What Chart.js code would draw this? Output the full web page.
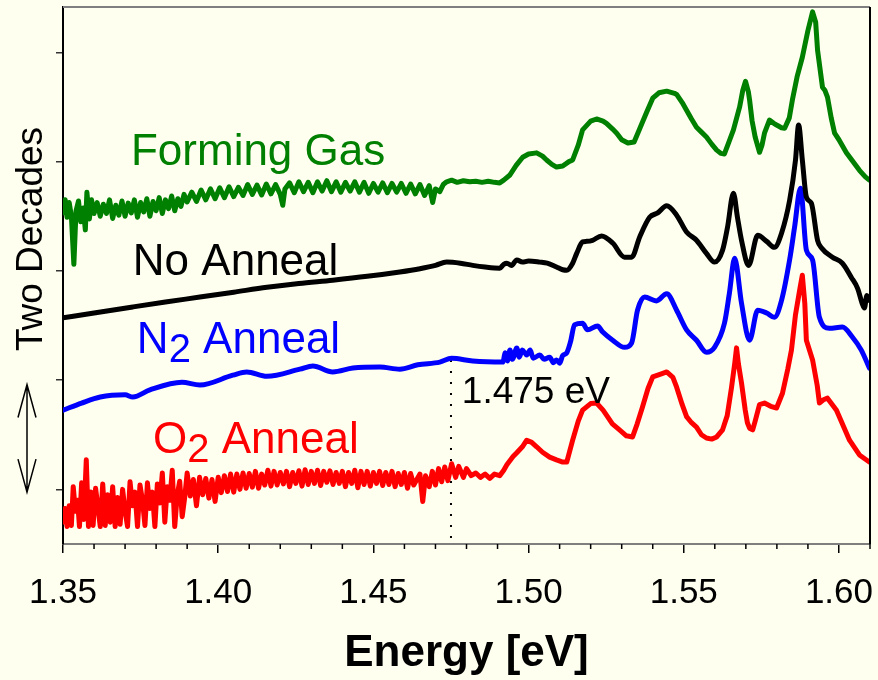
<!DOCTYPE html>
<html>
<head>
<meta charset="utf-8">
<title>Energy spectra</title>
<script src="https://cdn.jsdelivr.net/npm/chart.js@4.4.0/dist/chart.umd.min.js"></script>
<style>
  html, body { margin: 0; padding: 0; background: #FFFFF0; }
  #wrap { width: 878px; height: 680px; }
</style>
</head>
<body>
<div id="wrap"><canvas id="myChart" width="878" height="680"></canvas></div>
<script>
// x: energy [eV], y: log intensity in decades (one y tick = two decades)
var formingGas = [
  [1.3500,5.06],[1.3507,5.30],[1.3513,4.98],[1.3520,5.25],[1.3527,5.00],[1.3535,4.12],[1.3542,5.10],
  [1.3550,5.28],[1.3557,4.90],[1.3565,5.15],[1.3572,4.75],[1.3577,5.44],[1.3585,4.95],[1.3592,5.30],
  [1.3600,5.05],[1.3610,5.25],[1.3620,5.00],[1.3630,5.22],[1.3640,5.05],[1.3650,5.30],[1.3660,4.96],
  [1.3670,5.20],[1.3680,5.02],[1.3690,5.28],[1.3700,5.00],[1.3710,5.24],[1.3720,5.06],[1.3730,5.30],
  [1.3740,4.98],[1.3750,5.25],[1.3760,5.08],[1.3770,5.32],[1.3780,5.00],[1.3790,5.27],[1.3800,5.10],
  [1.3810,5.34],[1.3820,5.05],[1.3830,5.30],[1.3840,5.14],[1.3850,5.37],[1.3860,5.10],[1.3870,5.32],
  [1.3880,5.18],[1.3890,5.40],[1.3900,5.26],[1.3915,5.44],[1.3930,5.27],[1.3945,5.48],[1.3960,5.30],
  [1.3975,5.50],[1.3990,5.32],[1.4005,5.52],[1.4020,5.34],[1.4035,5.54],[1.4050,5.36],[1.4065,5.53],
  [1.4080,5.38],[1.4095,5.58],[1.4110,5.40],[1.4125,5.57],[1.4140,5.39],[1.4155,5.59],[1.4170,5.41],
  [1.4185,5.58],[1.4200,5.40],[1.4208,5.20],[1.4215,5.50],[1.4230,5.61],[1.4245,5.43],[1.4260,5.63],
  [1.4275,5.45],[1.4290,5.62],[1.4305,5.43],[1.4320,5.63],[1.4335,5.46],[1.4350,5.65],[1.4365,5.45],
  [1.4380,5.63],[1.4395,5.44],[1.4410,5.62],[1.4425,5.46],[1.4440,5.63],[1.4455,5.44],[1.4470,5.62],
  [1.4485,5.42],[1.4500,5.60],[1.4515,5.44],[1.4530,5.61],[1.4545,5.43],[1.4560,5.60],[1.4575,5.44],
  [1.4590,5.60],[1.4605,5.42],[1.4620,5.59],[1.4635,5.41],[1.4650,5.58],[1.4665,5.38],[1.4680,5.56],
  [1.4691,5.25],[1.4700,5.50],[1.4714,5.45],[1.4725,5.58],[1.4736,5.63],[1.4752,5.66],[1.4770,5.62],
  [1.4790,5.65],[1.4810,5.63],[1.4830,5.64],[1.4850,5.62],[1.4870,5.64],[1.4890,5.62],[1.4907,5.61],
  [1.4920,5.66],[1.4939,5.75],[1.4960,5.93],[1.4981,6.08],[1.5000,6.14],[1.5026,6.16],[1.5045,6.10],
  [1.5058,6.03],[1.5075,5.95],[1.5090,5.90],[1.5110,5.92],[1.5130,6.00],[1.5142,6.03],[1.5160,6.30],
  [1.5174,6.58],[1.5200,6.74],[1.5219,6.78],[1.5240,6.74],[1.5251,6.70],[1.5270,6.60],[1.5284,6.52],
  [1.5300,6.40],[1.5320,6.34],[1.5340,6.36],[1.5358,6.60],[1.5380,6.90],[1.5400,7.16],[1.5420,7.26],
  [1.5445,7.29],[1.5470,7.25],[1.5477,7.23],[1.5495,7.08],[1.5509,6.94],[1.5525,6.78],[1.5541,6.63],
  [1.5557,6.54],[1.5573,6.45],[1.5590,6.32],[1.5606,6.21],[1.5620,6.15],[1.5631,6.14],[1.5645,6.35],
  [1.5660,6.58],[1.5680,7.00],[1.5690,7.30],[1.5699,7.47],[1.5708,7.28],[1.5712,7.13],[1.5720,6.75],
  [1.5730,6.45],[1.5744,6.17],[1.5752,6.30],[1.5760,6.52],[1.5776,6.76],[1.5790,6.70],[1.5799,6.67],
  [1.5815,6.62],[1.5825,6.61],[1.5840,6.80],[1.5850,7.13],[1.5865,7.55],[1.5882,7.91],[1.5900,8.40],
  [1.5915,8.74],[1.5925,8.55],[1.5931,8.04],[1.5947,7.36],[1.5955,7.30],[1.5963,7.18],[1.5975,6.80],
  [1.5986,6.52],[1.6000,6.40],[1.6024,6.16],[1.6045,6.00],[1.6066,5.84],[1.6085,5.72],[1.6098,5.66]
];

var noAnneal = [
  [1.3500,3.14],[1.3600,3.23],[1.3725,3.34],[1.3830,3.43],[1.3941,3.52],[1.4050,3.61],[1.4157,3.70],
  [1.4260,3.77],[1.4369,3.83],[1.4480,3.90],[1.4585,3.98],[1.4650,4.04],[1.4700,4.10],[1.4736,4.16],
  [1.4780,4.14],[1.4820,4.10],[1.4860,4.07],[1.4907,4.05],[1.4920,4.12],[1.4930,4.14],[1.4945,4.10],
  [1.4962,4.20],[1.4980,4.16],[1.5000,4.18],[1.5036,4.16],[1.5060,4.14],[1.5090,4.07],[1.5110,4.02],
  [1.5123,4.01],[1.5142,4.14],[1.5155,4.32],[1.5174,4.53],[1.5187,4.54],[1.5206,4.56],[1.5235,4.64],
  [1.5271,4.51],[1.5309,4.25],[1.5332,4.25],[1.5358,4.62],[1.5390,4.98],[1.5416,5.06],[1.5445,5.19],
  [1.5477,5.02],[1.5509,4.71],[1.5541,4.56],[1.5573,4.32],[1.5599,4.16],[1.5625,4.38],[1.5641,4.80],
  [1.5660,5.42],[1.5673,4.98],[1.5686,4.56],[1.5709,4.10],[1.5738,4.65],[1.5767,4.54],[1.5792,4.43],
  [1.5815,4.69],[1.5841,5.29],[1.5860,6.03],[1.5870,6.67],[1.5882,6.03],[1.5895,5.35],[1.5911,5.24],
  [1.5931,4.56],[1.5944,4.42],[1.5979,4.25],[1.6011,4.14],[1.6040,3.88],[1.6060,3.68],[1.6075,3.40],
  [1.6082,3.32],[1.6090,3.55],[1.6098,3.46]
];

var n2Anneal = [
  [1.3500,1.45],[1.3560,1.58],[1.3620,1.69],[1.3700,1.73],[1.3725,1.69],[1.3780,1.82],[1.3883,1.96],
  [1.3941,1.91],[1.4047,2.09],[1.4092,2.15],[1.4157,2.07],[1.4263,2.20],[1.4305,2.26],[1.4369,2.15],
  [1.4434,2.22],[1.4521,2.24],[1.4585,2.20],[1.4643,2.28],[1.4714,2.33],[1.4752,2.40],[1.4820,2.35],
  [1.4917,2.33],[1.4925,2.50],[1.4932,2.35],[1.4940,2.55],[1.4948,2.38],[1.4962,2.59],[1.4970,2.42],
  [1.4980,2.55],[1.4994,2.46],[1.5005,2.55],[1.5015,2.40],[1.5036,2.46],[1.5050,2.38],[1.5068,2.42],
  [1.5080,2.32],[1.5090,2.37],[1.5100,2.31],[1.5110,2.45],[1.5123,2.50],[1.5135,2.70],[1.5148,3.01],
  [1.5174,3.04],[1.5190,2.92],[1.5222,2.99],[1.5239,2.88],[1.5271,2.73],[1.5309,2.60],[1.5332,2.68],
  [1.5351,3.28],[1.5374,3.52],[1.5412,3.45],[1.5445,3.58],[1.5477,3.28],[1.5509,2.92],[1.5541,2.73],
  [1.5573,2.51],[1.5599,2.60],[1.5631,3.04],[1.5647,3.59],[1.5664,4.23],[1.5686,3.41],[1.5712,2.73],
  [1.5738,3.28],[1.5767,3.23],[1.5792,3.15],[1.5815,3.46],[1.5841,4.20],[1.5857,4.80],[1.5876,5.51],
  [1.5895,4.38],[1.5915,4.20],[1.5937,3.15],[1.5969,2.95],[1.6011,2.97],[1.6043,2.79],[1.6072,2.55],
  [1.6098,2.22]
];

var o2Anneal = [
  [1.3500,-0.60],[1.3507,-0.35],[1.3513,-0.68],[1.3520,-0.30],[1.3527,-0.66],[1.3533,0.05],[1.3540,-0.40],
  [1.3547,-0.20],[1.3553,-0.68],[1.3560,0.12],[1.3567,-0.55],[1.3575,0.54],[1.3582,-0.68],[1.3590,-0.05],
  [1.3597,-0.66],[1.3605,0.02],[1.3612,-0.30],[1.3620,-0.68],[1.3628,0.10],[1.3636,-0.66],[1.3644,-0.10],
  [1.3652,-0.60],[1.3660,0.05],[1.3668,-0.68],[1.3676,-0.15],[1.3684,-0.64],[1.3692,0.00],[1.3700,-0.40],
  [1.3708,-0.68],[1.3716,0.14],[1.3724,-0.30],[1.3732,-0.05],[1.3740,-0.68],[1.3748,0.08],[1.3756,-0.20],
  [1.3764,-0.66],[1.3772,0.12],[1.3780,-0.35],[1.3788,-0.05],[1.3796,-0.68],[1.3804,0.10],[1.3812,-0.25],
  [1.3820,0.30],[1.3828,-0.60],[1.3836,0.05],[1.3844,-0.20],[1.3852,0.35],[1.3860,-0.68],[1.3868,-0.10],
  [1.3876,0.15],[1.3884,-0.50],[1.3892,-0.15],[1.3900,0.30],[1.3910,-0.12],[1.3920,0.18],[1.3930,-0.30],
  [1.3940,0.22],[1.3950,-0.10],[1.3960,0.20],[1.3970,-0.16],[1.3980,0.18],[1.3990,-0.22],[1.4000,0.22],
  [1.4010,-0.06],[1.4020,0.25],[1.4030,-0.04],[1.4040,0.28],[1.4050,-0.05],[1.4060,0.28],[1.4070,0.00],
  [1.4080,0.30],[1.4090,0.02],[1.4100,0.29],[1.4110,0.04],[1.4120,0.33],[1.4130,0.02],[1.4140,0.28],
  [1.4150,0.08],[1.4160,0.35],[1.4170,0.06],[1.4180,0.33],[1.4190,0.08],[1.4200,0.31],[1.4210,0.10],
  [1.4220,0.33],[1.4230,0.05],[1.4240,0.31],[1.4250,0.11],[1.4260,0.34],[1.4270,0.06],[1.4280,0.36],
  [1.4290,0.09],[1.4300,0.33],[1.4310,0.11],[1.4320,0.35],[1.4330,0.07],[1.4340,0.33],[1.4350,0.13],
  [1.4360,0.34],[1.4370,0.09],[1.4380,0.31],[1.4390,0.11],[1.4400,0.33],[1.4410,0.05],[1.4420,0.31],
  [1.4430,0.11],[1.4440,0.35],[1.4450,0.03],[1.4460,0.33],[1.4470,0.09],[1.4480,0.33],[1.4490,0.06],
  [1.4500,0.31],[1.4510,0.11],[1.4520,0.33],[1.4530,0.07],[1.4540,0.31],[1.4550,0.09],[1.4560,0.33],
  [1.4570,0.05],[1.4580,0.29],[1.4590,0.09],[1.4600,0.31],[1.4610,0.02],[1.4620,0.29],[1.4630,0.08],
  [1.4650,0.28],[1.4659,-0.22],[1.4668,0.25],[1.4680,0.05],[1.4690,0.33],[1.4700,0.08],[1.4710,0.38],
  [1.4720,0.14],[1.4730,0.41],[1.4740,0.16],[1.4752,0.47],[1.4765,0.22],[1.4775,0.42],[1.4790,0.22],
  [1.4800,0.38],[1.4815,0.25],[1.4830,0.30],[1.4845,0.22],[1.4860,0.28],[1.4875,0.20],[1.4890,0.28],
  [1.4907,0.25],[1.4920,0.35],[1.4930,0.45],[1.4950,0.60],[1.4962,0.67],[1.4980,0.78],[1.4994,0.90],
  [1.5010,0.86],[1.5026,0.78],[1.5045,0.68],[1.5068,0.59],[1.5090,0.54],[1.5110,0.50],[1.5123,0.50],
  [1.5142,0.90],[1.5160,1.25],[1.5174,1.45],[1.5200,1.57],[1.5219,1.58],[1.5240,1.45],[1.5251,1.36],
  [1.5270,1.20],[1.5293,1.09],[1.5315,0.98],[1.5335,0.96],[1.5350,1.20],[1.5367,1.51],[1.5385,1.85],
  [1.5400,2.06],[1.5430,2.12],[1.5445,2.15],[1.5465,2.05],[1.5477,1.87],[1.5495,1.55],[1.5509,1.33],
  [1.5525,1.22],[1.5541,1.14],[1.5557,1.00],[1.5573,0.94],[1.5590,0.92],[1.5606,0.96],[1.5625,1.09],
  [1.5640,1.35],[1.5654,1.87],[1.5664,2.30],[1.5670,2.59],[1.5676,2.30],[1.5686,1.95],[1.5698,1.45],
  [1.5705,1.22],[1.5712,1.12],[1.5722,1.09],[1.5730,1.25],[1.5744,1.55],[1.5760,1.58],[1.5780,1.52],
  [1.5799,1.49],[1.5818,1.76],[1.5835,2.20],[1.5847,2.55],[1.5860,3.20],[1.5875,3.70],[1.5882,3.92],
  [1.5890,3.40],[1.5895,2.73],[1.5915,2.37],[1.5930,1.90],[1.5937,1.58],[1.5950,1.64],[1.5963,1.67],
  [1.5992,1.45],[1.6034,0.90],[1.6066,0.63],[1.6098,0.50]
];

var xTicks = [1.35, 1.40, 1.45, 1.50, 1.55, 1.60];
var yTicks = [0, 2, 4, 6, 8];
var markerEnergy = 1.475;
var markerTop = 2.37;

var FONT = "'Liberation Sans', Arial, sans-serif";

// label anchors in data units (energy, decades)
var curveLabels = [
  { parts: [['Forming Gas', 0]], x: 1.3719, y: 5.94, color: '#008000' },
  { parts: [['No Anneal', 0]], x: 1.3725, y: 3.92, color: '#000000' },
  { parts: [['N', 0], ['2', 1], [' Anneal', 0]], x: 1.3738, y: 2.49, color: '#0000FF' },
  { parts: [['O', 0], ['2', 1], [' Anneal', 0]], x: 1.3790, y: 0.665, color: '#FF0000' }
];

function toXY(arr) {
  return arr.map(function(p) { return { x: p[0], y: p[1] }; });
}

// noisy spectra drawn with straight segments, smooth ones interpolated
function line(data, color, smooth) {
  return {
    data: toXY(data),
    borderColor: color,
    borderWidth: 5,
    pointRadius: 0,
    showLine: true,
    tension: 0,
    cubicInterpolationMode: smooth ? 'monotone' : 'default',
    borderJoinStyle: 'round',
    borderCapStyle: 'round'
  };
}

var decor = {
  id: 'decor',
  beforeDraw: function(chart) {
    var c = chart.ctx;
    c.save();
    c.fillStyle = '#FFFFF0';
    c.fillRect(0, 0, chart.width, chart.height);
    c.restore();
  },
  afterDraw: function(chart) {
    var c = chart.ctx, a = chart.chartArea;
    var xs = chart.scales.x, ys = chart.scales.y;
    c.save();

    // frame: top and right
    c.lineWidth = 2;
    c.strokeStyle = '#7f7f7f';
    c.beginPath(); c.moveTo(a.left, a.top); c.lineTo(a.right, a.top); c.stroke();
    c.strokeStyle = '#000';
    c.beginPath(); c.moveTo(a.right, a.top); c.lineTo(a.right, a.bottom); c.stroke();

    // minor ticks every 0.01
    c.lineWidth = 1.5;
    for (var i = 1; i <= 26; i++) {
      if (i % 5 === 0) continue;
      var px = xs.getPixelForValue(1.35 + i * 0.01);
      c.beginPath(); c.moveTo(px, a.bottom); c.lineTo(px, a.bottom + 5); c.stroke();
    }

    // curve labels
    c.textBaseline = 'alphabetic';
    c.textAlign = 'left';
    curveLabels.forEach(function(l) {
      var x = xs.getPixelForValue(l.x), y = ys.getPixelForValue(l.y);
      c.fillStyle = l.color;
      l.parts.forEach(function(p) {
        c.font = (p[1] ? '40px ' : '44px ') + FONT;
        c.fillText(p[0], x, y + (p[1] ? 9 : 0));
        x += c.measureText(p[0]).width;
      });
    });

    // marker label
    c.fillStyle = '#000';
    c.font = '37px ' + FONT;
    c.fillText('1.475 eV', xs.getPixelForValue(1.4785), ys.getPixelForValue(1.58));

    // y caption, rotated
    c.save();
    c.translate(42, 239);
    c.rotate(-Math.PI / 2);
    c.textAlign = 'center';
    c.fillText('Two Decades', 0, 0);
    c.restore();

    // two-decade arrow
    var ax = 27, y1 = ys.getPixelForValue(1.92), y2 = ys.getPixelForValue(-0.05);
    c.strokeStyle = '#000';
    c.lineWidth = 1.5;
    c.beginPath();
    c.moveTo(ax, y1); c.lineTo(ax, y2);
    c.moveTo(ax - 9, y1 + 33); c.lineTo(ax, y1); c.lineTo(ax + 9, y1 + 33);
    c.moveTo(ax - 9, y2 - 33); c.lineTo(ax, y2); c.lineTo(ax + 9, y2 - 33);
    c.stroke();

    c.restore();
  }
};

var ctx = document.getElementById('myChart');
var myChart = new Chart(ctx, {
  type: 'scatter',
  data: {
    datasets: [
      line(formingGas, '#008000', false),
      line(noAnneal, '#000000', true),
      line(n2Anneal, '#0000FF', true),
      line(o2Anneal, '#FF0000', false),
      {
        data: [{ x: markerEnergy, y: markerTop }, { x: markerEnergy, y: -1 }],
        borderColor: '#000',
        borderWidth: 2,
        borderDash: [2, 9],
        pointRadius: 0,
        showLine: true
      }
    ]
  },
  options: {
    responsive: false,
    devicePixelRatio: 1,
    animation: false,
    layout: { padding: { top: 7, right: 8, left: 0, bottom: 0 } },
    plugins: {
      legend: { display: false },
      tooltip: { enabled: false }
    },
    scales: {
      x: {
        type: 'linear',
        min: 1.35,
        max: 1.61,
        afterBuildTicks: function(axis) {
          axis.ticks = xTicks.map(function(v) { return { value: v }; });
        },
        afterFit: function(axis) {
          axis.height = 136;
          axis.paddingLeft = 0;
          axis.paddingRight = 0;
        },
        ticks: {
          color: '#000',
          padding: 19,
          maxRotation: 0,
          autoSkip: false,
          font: { family: FONT, size: 35 },
          callback: function(v) { return Number(v).toFixed(2); }
        },
        grid: { drawOnChartArea: false, tickLength: 9, color: '#000', lineWidth: 1.5 },
        border: { color: '#7f7f7f', width: 2 },
        title: {
          display: true,
          text: 'Energy [eV]',
          color: '#000',
          padding: 0,
          font: { family: FONT, size: 44, weight: 'bold' }
        }
      },
      y: {
        type: 'linear',
        min: -1,
        max: 8.83,
        afterBuildTicks: function(axis) {
          axis.ticks = yTicks.map(function(v) { return { value: v }; });
        },
        afterFit: function(axis) { axis.width = 63; },
        ticks: { display: false },
        grid: { drawOnChartArea: false, tickLength: 7, color: '#333', lineWidth: 1.5 },
        border: { color: '#000', width: 2 }
      }
    }
  },
  plugins: [decor]
});
</script>
</body>
</html>
